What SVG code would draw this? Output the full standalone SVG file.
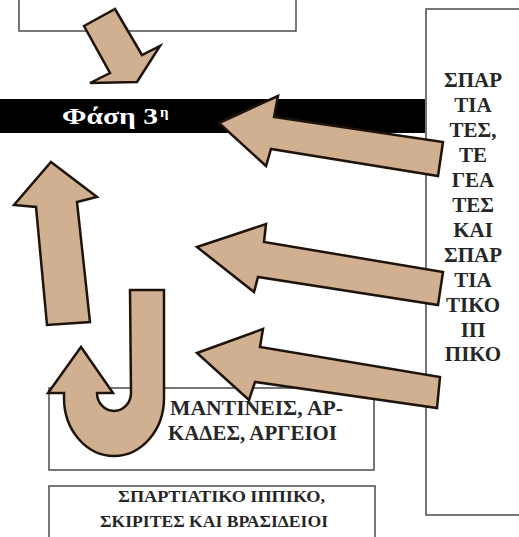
<svg xmlns="http://www.w3.org/2000/svg" width="519" height="537" viewBox="0 0 519 537">
<style>
.box{fill:#fff;stroke:#4a4a4a;stroke-width:1.5}
.arr{fill:#d1b091;stroke:#1e140c;stroke-width:2.5;stroke-linejoin:miter}
.t{font-family:"Liberation Serif","Times New Roman",serif;font-weight:bold;fill:#262626}
.col{font-size:21px;text-anchor:middle}
.w{fill:#fff}
</style>
<rect width="519" height="537" fill="#fff"/>
<g id="top-box"><rect class="box" x="19" y="-5" width="277" height="36"/></g>
<g id="right-box">
<rect class="box" x="426" y="9" width="100" height="506"/>
<text class="t col" x="473"><tspan x="473" y="87">ΣΠΑΡ</tspan><tspan x="473" y="112">ΤΙΑ</tspan><tspan x="473" y="137">ΤΕΣ,</tspan><tspan x="473" y="162">ΤΕ</tspan><tspan x="473" y="187">ΓΕΑ</tspan><tspan x="473" y="212">ΤΕΣ</tspan><tspan x="473" y="237">ΚΑΙ</tspan><tspan x="473" y="262">ΣΠΑΡ</tspan><tspan x="473" y="287">ΤΙΑ</tspan><tspan x="473" y="312">ΤΙΚΟ</tspan><tspan x="473" y="337">ΙΠ</tspan><tspan x="473" y="361">ΠΙΚΟ</tspan></text>
</g>
<g id="phase-bar">
<rect x="0" y="99" width="425" height="34" fill="#000"/>
<text class="t w" x="62" y="124" font-size="24" textLength="96" lengthAdjust="spacingAndGlyphs">Φάση 3</text>
<text class="t w" x="160" y="117" font-size="15">η</text>
</g>
<g id="mantineis-box">
<rect class="box" x="49" y="388" width="325" height="82"/>
<text class="t" font-size="20"><tspan x="170" y="415" textLength="173" lengthAdjust="spacingAndGlyphs">ΜΑΝΤΙΝΕΙΣ, ΑΡ-</tspan><tspan x="168" y="440" textLength="169" lengthAdjust="spacingAndGlyphs">ΚΑΔΕΣ, ΑΡΓΕΙΟΙ</tspan></text>
</g>
<g id="bottom-box">
<rect class="box" x="49" y="486" width="326" height="60"/>
<text class="t" font-size="16"><tspan x="118" y="502" textLength="207" lengthAdjust="spacingAndGlyphs">ΣΠΑΡΤΙΑΤΙΚΟ ΙΠΠΙΚΟ,</tspan><tspan x="100" y="527" textLength="228" lengthAdjust="spacingAndGlyphs">ΣΚΙΡΙΤΕΣ ΚΑΙ ΒΡΑΣΙΔΕΙΟΙ</tspan></text>
</g>
<g id="connectors">
<path class="arr" d="M84,26 L115,9 L142,55 L160,46 L137,82 L90,83 L110,73 Z"/>
<path class="arr" d="M219,123 L278,96 L274,117 L443,142 L438,176 L271,149 L266,166 Z"/>
<path class="arr" d="M197,247 L266,224 L264,242 L443,272 L438,305 L258,277 L254,292 Z"/>
<path class="arr" d="M197,353 L263,329 L260,347 L440,377 L437,408 L255,382 L249,400 Z"/>
<path class="arr" d="M51,162 L97,197 L77,202 L90,322 L47,325 L36,207 L14,205 Z"/>
<path class="arr" d="M130,290 L164,290 L164,398 A50,58 0 0 1 64,398 L64,393 L48,393 L81,347 L113,393 L97,393 A17,18 0 0 0 131,393 Z"/>
</g>
</svg>
